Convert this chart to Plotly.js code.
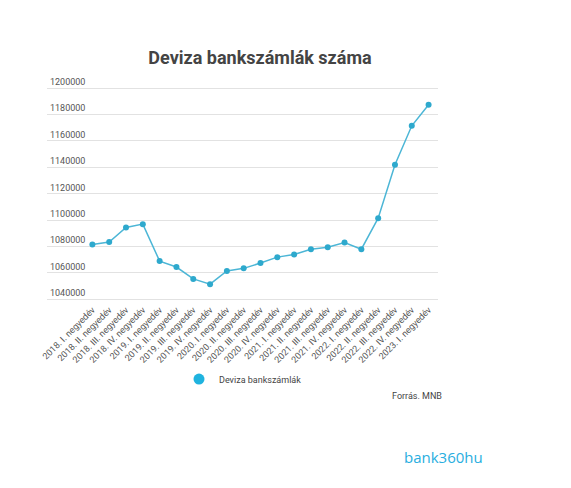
<!DOCTYPE html>
<html>
<head>
<meta charset="utf-8">
<script src="https://cdn.plot.ly/plotly-3.0.1.min.js"></script>
<style>html,body{margin:0;padding:0;background:#fff;}#chart{width:571px;height:488px;}</style>
</head>
<body>
<div id="chart"></div>
<script>
const categories = [
  "2018. I. negyedév","2018. II. negyedév","2018. III. negyedév","2018. IV. negyedév",
  "2019. I. negyedév","2019. II. negyedév","2019. III. negyedév","2019. IV. negyedév",
  "2020. I. negyedév","2020. II. negyedév","2020. III. negyedév","2020. IV. negyedév",
  "2021. I. negyedév","2021. II. negyedév","2021. III. negyedév","2021. IV. negyedév",
  "2022. I. negyedév","2022. II. negyedév","2022. III. negyedév","2022. IV. negyedév",
  "2023. I. negyedév"
];
const devizaSzamlak = [
  1081500, 1083500, 1094500, 1097000,
  1069000, 1064500, 1055500, 1051500,
  1061500, 1063500, 1067500, 1072000,
  1074000, 1078000, 1079500, 1083000,
  1078000, 1101500, 1142000, 1171500,
  1187500
];
const yTicks = [1040000,1060000,1080000,1100000,1120000,1140000,1160000,1180000,1200000];
const seriesName = "Deviza bankszámlák";

const W = 571, H = 488;
const yMin = 1038000, yMax = 1210000;
const pxPerUnit = 211 / 160000;
const plotL = 47, plotR = 438;
const plotT = 88.3 - (yMax - 1200000) * pxPerUnit;
const plotB = 299.3 + (1040000 - yMin) * pxPerUnit;

const traces = [
  {
    x: categories, y: devizaSzamlak, type: 'scatter', mode: 'lines+markers',
    line: {color: '#4cb6d6', width: 1.5},
    marker: {color: '#2ea9cd', size: 6},
    showlegend: false, hoverinfo: 'skip'
  },
  {
    x: [null], y: [null], type: 'scatter', mode: 'markers', name: seriesName,
    marker: {color: '#1fb3df', size: 11}, showlegend: true
  }
];

const layout = {
  width: W, height: H,
  margin: {l: plotL, r: W - plotR, t: plotT, b: H - plotB, pad: 0},
  paper_bgcolor: '#fff', plot_bgcolor: '#fff',
  font: {family: 'Roboto, Arial, sans-serif', color: '#555', size: 9},
  title: {
    text: '<b>Deviza bankszámlák száma</b>',
    font: {family: 'Roboto, Arial, sans-serif', size: 18, color: '#444'},
    x: 260 / W, xref: 'container', xanchor: 'center',
    y: 1 - 58 / H, yref: 'container', yanchor: 'middle'
  },
  xaxis: {
    type: 'category', range: [-2.7, 20.56],
    tickangle: -45, tickfont: {size: 9, color: '#555'},
    showgrid: false, showline: false, zeroline: false, ticks: '',
    fixedrange: true
  },
  yaxis: {
    range: [yMin, yMax],
    tickvals: yTicks, ticktext: yTicks.map(String),
    ticklabelposition: 'inside top', tickfont: {size: 9, color: '#555'},
    showgrid: true, gridcolor: '#e2e2e2', gridwidth: 1,
    zeroline: false, showline: false, ticks: '', fixedrange: true
  },
  showlegend: true,
  legend: {
    orientation: 'h', x: (179 - plotL) / (plotR - plotL), xanchor: 'left',
    y: -(379 - plotB) / (plotB - plotT), yanchor: 'middle',
    font: {size: 9, color: '#444'}, itemwidth: 30
  },
  annotations: [
    {
      text: 'Forrás. MNB', xref: 'paper', yref: 'paper',
      x: (444 - plotL) / (plotR - plotL), xanchor: 'right',
      y: -(396 - plotB) / (plotB - plotT), yanchor: 'middle',
      showarrow: false, font: {size: 9, color: '#444'}
    },
    {
      text: 'bank360hu', xref: 'paper', yref: 'paper',
      x: (402 - plotL) / (plotR - plotL), xanchor: 'left',
      y: -(457 - plotB) / (plotB - plotT), yanchor: 'middle',
      showarrow: false, font: {size: 15, color: '#29aee0', family: 'Open Sans, Arial, sans-serif'}
    }
  ]
};

Plotly.newPlot('chart', traces, layout, {displayModeBar: false, staticPlot: true});
</script>
</body>
</html>
